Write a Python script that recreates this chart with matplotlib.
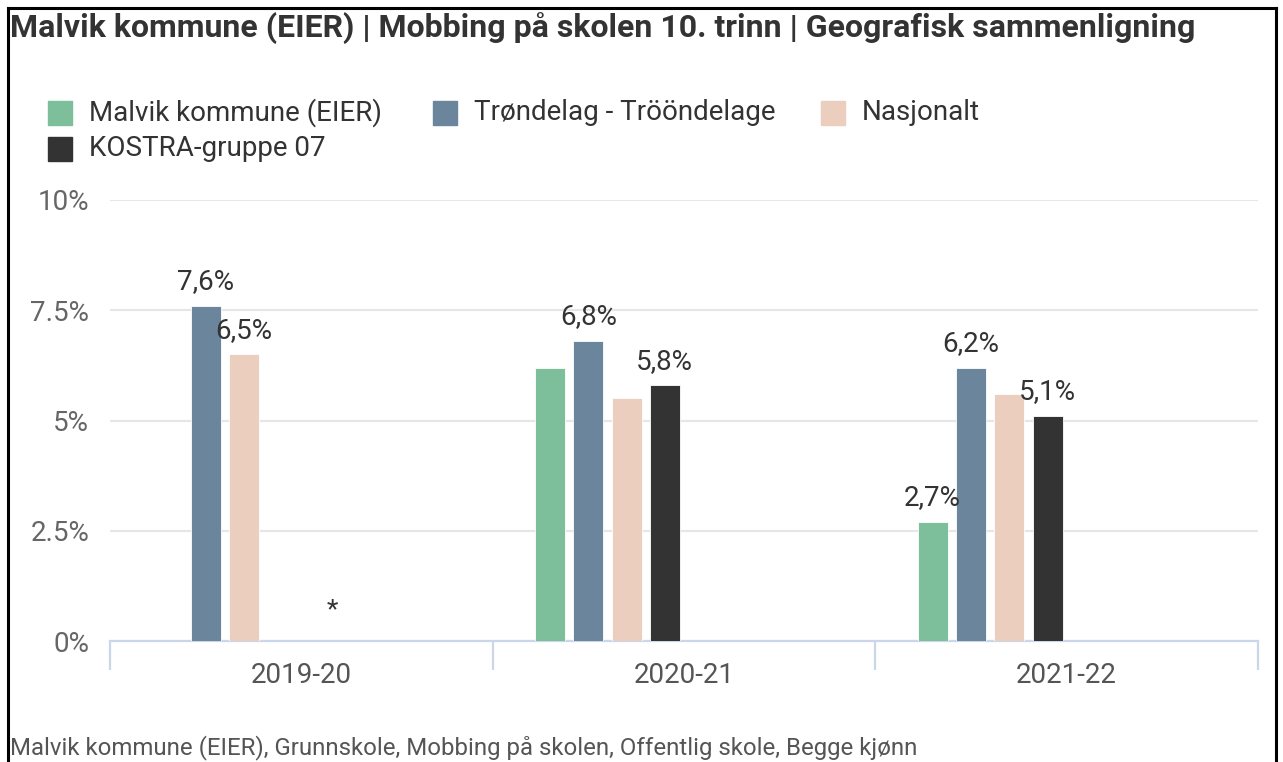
import matplotlib
matplotlib.use("Agg")
import matplotlib.pyplot as plt
from matplotlib.patches import Rectangle
from matplotlib.lines import Line2D
import numpy as np

plt.rcParams['font.family'] = ['Roboto', 'DejaVu Sans']

# ---- data ----
categories = ["2019-20", "2020-21", "2021-22"]
series_names = ["Malvik kommune (EIER)", "Trøndelag - Tr\u00f6\u00f6ndelage", "Nasjonalt", "KOSTRA-gruppe 07"]
malvik = [np.nan, 6.2, 2.7]
trondelag = [7.6, 6.8, 6.2]
nasjonalt = [6.5, 5.5, 5.6]
kostra = [np.nan, 5.8, 5.1]
# which value labels are visible (others hidden due to overlap in original)
show_malvik = [False, False, True]
show_trondelag = [True, True, True]
show_nasjonalt = [True, False, False]
show_kostra = [False, True, True]
yticks = [0, 2.5, 5, 7.5, 10]
ytick_labels = ["0%", "2.5%", "5%", "7.5%", "10%"]
title = "Malvik kommune (EIER) | Mobbing på skolen 10. trinn | Geografisk sammenligning"
footnote = "Malvik kommune (EIER), Grunnskole, Mobbing på skolen, Offentlig skole, Begge kjønn"
missing_marker = "*"

colors = ["#7dbf9b", "#6b869c", "#eccebf", "#333333"]

W, H = 1283, 762
fig = plt.figure(figsize=(W / 100, H / 100), dpi=100)
fig.patch.set_facecolor("white")

def fx(px):
    return px / W

def fy(py):
    return 1 - py / H

ax = fig.add_axes([fx(110), fy(641), fx(1258) - fx(110), fy(200) - fy(641)])
x = np.arange(len(categories))
slot = 0.8 / 8
bw = 30 / 382.7
all_series = [malvik, trondelag, nasjonalt, kostra]
all_show = [show_malvik, show_trondelag, show_nasjonalt, show_kostra]
for i, (vals, shows) in enumerate(zip(all_series, all_show)):
    xs = x - 0.5 + 0.1 + (i + 0.5) * slot
    vals = np.array(vals, dtype=float)
    ax.bar(xs, np.nan_to_num(vals), width=bw, color=colors[i], zorder=3,
           edgecolor="white", linewidth=0.6)
    for xi, v, s in zip(xs, vals, shows):
        if s and not np.isnan(v):
            ax.annotate(f"{v:.1f}%".replace(".", ","), (xi, v), xytext=(0, 12),
                        textcoords="offset points", ha="center", va="baseline",
                        fontsize=20, color="#333333", zorder=4)

ax.text(0.08, 0.7, missing_marker, ha="center", va="center", fontsize=19,
        color="#333333")

ax.set_xlim(-0.5, 2.5)
ax.set_ylim(0, 10)
ax.set_yticks(yticks)
ax.set_yticklabels(ytick_labels)
ax.yaxis.grid(True, color="#e6e6e6", linewidth=1.5, zorder=0)
ax.set_axisbelow(True)
for s in ["top", "right", "left"]:
    ax.spines[s].set_visible(False)
ax.spines["bottom"].set_color("#ccd6eb")
ax.spines["bottom"].set_linewidth(1.6)
ax.tick_params(axis="y", length=0, pad=15, labelsize=20, labelcolor="#666666")
ax.set_xticks(x)
ax.set_xticklabels(categories)
ax.set_xticks([-0.5, 0.5, 1.5, 2.5], minor=True)
ax.tick_params(axis="x", which="major", length=0, pad=15, labelsize=20, labelcolor="#555555")
ax.tick_params(axis="x", which="minor", length=21, width=1.6, color="#ccd6eb")

# title & footnote
fig.text(fx(10), fy(29), title, ha="left", va="center", fontsize=23,
         fontweight="bold", color="#333333")
fig.text(fx(10), fy(748), footnote, ha="left", va="center", fontsize=17.3,
         color="#555555")

# legend (manual)
leg_items = [(48, 113, 0), (433, 113, 1), (821, 113, 2), (48, 149, 3)]
for lx, ly, idx in leg_items:
    fig.patches.append(Rectangle((fx(lx), fy(ly + 12)), fx(24), 24 / H,
                                 transform=fig.transFigure, color=colors[idx]))
    fig.text(fx(lx + 41), fy(ly), series_names[idx], ha="left", va="center",
             fontsize=20, color="#333333")

# border frame
bc = "black"
fig.add_artist(Line2D([fx(8), fx(8)], [0, fy(8)], color=bc, linewidth=2.2))
fig.add_artist(Line2D([fx(8), fx(1276)], [fy(8), fy(8)], color=bc, linewidth=2.2))
fig.add_artist(Line2D([fx(1276), fx(1276)], [0, fy(8)], color=bc, linewidth=2.2))

fig.savefig("out.png", dpi=100)
